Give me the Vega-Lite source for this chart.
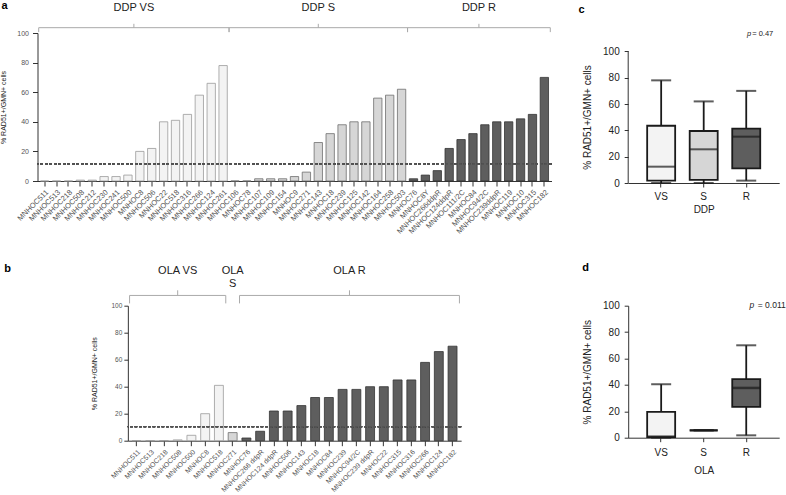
{
  "$schema": "https://vega.github.io/schema/vega-lite/v6.json",
  "background": "white",
  "padding": {"left": -1.5, "top": 0, "right": 0, "bottom": 0},
  "config": {
    "font": "Liberation Sans",
    "view": {"stroke": null},
    "axis": {"grid": false, "domainColor": "#333", "tickColor": "#333", "labelColor": "#333", "titleColor": "#222", "titleFontWeight": "normal", "labelFont": "Liberation Sans", "titleFont": "Liberation Sans", "labelOverlap": false}
  },
  "datasets": {
    "ddp": [
      {"line": "MNHOC511", "group": "VS", "value": 0},
      {"line": "MNHOC513", "group": "VS", "value": 0},
      {"line": "MNHOC218", "group": "VS", "value": 0},
      {"line": "MNHOC508", "group": "VS", "value": 0.6},
      {"line": "MNHOC212", "group": "VS", "value": 0.6},
      {"line": "MNHOC230", "group": "VS", "value": 3},
      {"line": "MNHOC241", "group": "VS", "value": 3},
      {"line": "MNHOC500", "group": "VS", "value": 4},
      {"line": "MNHOC8", "group": "VS", "value": 20},
      {"line": "MNHOC506", "group": "VS", "value": 22},
      {"line": "MNHOC22", "group": "VS", "value": 40},
      {"line": "MNHOC518", "group": "VS", "value": 41},
      {"line": "MNHOC316", "group": "VS", "value": 45},
      {"line": "MNHOC266", "group": "VS", "value": 58},
      {"line": "MNHOC124", "group": "VS", "value": 66},
      {"line": "MNHOC261", "group": "VS", "value": 78},
      {"line": "MNHOC106", "group": "S", "value": 0},
      {"line": "MNHOC78", "group": "S", "value": 0},
      {"line": "MNHOC107", "group": "S", "value": 1.5},
      {"line": "MNHOC109", "group": "S", "value": 1.5},
      {"line": "MNHOC154", "group": "S", "value": 1.5},
      {"line": "MNHOC9", "group": "S", "value": 3},
      {"line": "MNHOC271", "group": "S", "value": 6},
      {"line": "MNHOC143", "group": "S", "value": 26},
      {"line": "MNHOC18", "group": "S", "value": 32},
      {"line": "MNHOC239", "group": "S", "value": 38},
      {"line": "MNHOC125", "group": "S", "value": 40},
      {"line": "MNHOC142", "group": "S", "value": 40},
      {"line": "MNHOC164", "group": "S", "value": 56},
      {"line": "MNHOC258", "group": "S", "value": 58},
      {"line": "MNHOC503", "group": "S", "value": 62},
      {"line": "MNHOC76", "group": "R", "value": 1.5},
      {"line": "MNHOC8Y", "group": "R", "value": 4},
      {"line": "MNHOC266ddpR", "group": "R", "value": 7},
      {"line": "MNHOC124ddpR", "group": "R", "value": 22},
      {"line": "MNHOC111/2C", "group": "R", "value": 28},
      {"line": "MNHOC84", "group": "R", "value": 32},
      {"line": "MNHOC94/2C", "group": "R", "value": 38},
      {"line": "MNHOC239ddpR", "group": "R", "value": 40},
      {"line": "MNHOC119", "group": "R", "value": 40},
      {"line": "MNHOC10", "group": "R", "value": 42},
      {"line": "MNHOC315", "group": "R", "value": 45},
      {"line": "MNHOC182", "group": "R", "value": 70}
    ],
    "ola": [
      {"line": "MNHOC511", "group": "VS", "value": 0},
      {"line": "MNHOC513", "group": "VS", "value": 0},
      {"line": "MNHOC218", "group": "VS", "value": 0},
      {"line": "MNHOC508", "group": "VS", "value": 0.6},
      {"line": "MNHOC500", "group": "VS", "value": 4},
      {"line": "MNHOC8", "group": "VS", "value": 20},
      {"line": "MNHOC518", "group": "VS", "value": 41},
      {"line": "MNHOC271", "group": "S", "value": 6},
      {"line": "MNHOC76", "group": "R", "value": 2},
      {"line": "MNHOC266 ddpR", "group": "R", "value": 7},
      {"line": "MNHOC124 ddpR", "group": "R", "value": 22},
      {"line": "MNHOC506", "group": "R", "value": 22},
      {"line": "MNHOC143", "group": "R", "value": 26},
      {"line": "MNHOC18", "group": "R", "value": 32},
      {"line": "MNHOC84", "group": "R", "value": 32},
      {"line": "MNHOC239", "group": "R", "value": 38},
      {"line": "MNHOC94/2C", "group": "R", "value": 38},
      {"line": "MNHOC239 ddpR", "group": "R", "value": 40},
      {"line": "MNHOC22", "group": "R", "value": 40},
      {"line": "MNHOC315", "group": "R", "value": 45},
      {"line": "MNHOC316", "group": "R", "value": 45},
      {"line": "MNHOC266", "group": "R", "value": 58},
      {"line": "MNHOC124", "group": "R", "value": 66},
      {"line": "MNHOC182", "group": "R", "value": 70}
    ],
    "ddpBox": [
      {"group": "VS", "min": 0, "q1": 1.8, "median": 12.4, "q3": 43.5, "max": 78},
      {"group": "S", "min": 0, "q1": 2.3, "median": 25.6, "q3": 39.5, "max": 62},
      {"group": "R", "min": 1.8, "q1": 11.1, "median": 35.2, "q3": 41.3, "max": 70}
    ],
    "olaBox": [
      {"group": "VS", "min": 0, "q1": 0.5, "median": 0.8, "q3": 19.5, "max": 40.5},
      {"group": "S", "min": 5.6, "q1": 5.6, "median": 5.6, "q3": 5.6, "max": 5.6},
      {"group": "R", "min": 1.8, "q1": 23.3, "median": 37.7, "q3": 44.3, "max": 70}
    ]
  },
  "columns": 2,
  "align": "each",
  "bounds": "flush",
  "center": {"column": true, "row": false},
  "spacing": {"row": 122.7, "column": 76.7},
  "concat": [
    {
      "width": 514,
      "height": 148,
      "data": {"name": "ddp"},
      "layer": [
        {
          "mark": {"type": "bar", "strokeWidth": 0.8},
          "encoding": {
            "x": {"field": "line", "type": "nominal", "sort": null,
              "scale": {"paddingInner": 0.3, "paddingOuter": 0.25},
              "axis": {"title": null, "labelAngle": -45, "labelFontSize": 7.5, "labelColor": "#555", "tickSize": 5, "labelPadding": 2, "labelOverlap": false}},
            "y": {"field": "value", "type": "quantitative", "scale": {"domain": [0, 100], "nice": false},
              "axis": {"values": [0, 20, 40, 60, 80, 100], "tickCount": 6, "labelOverlap": false, "title": "% RAD51+/GMN+ cells", "titleFontSize": 7, "labelFontSize": 7, "tickSize": 5, "labelPadding": 4, "titlePadding": 10.5, "labelColor": "#555"}},
            "fill": {"field": "group", "type": "nominal", "scale": {"domain": ["VS", "S", "R"], "range": ["#f3f3f3", "#d6d6d6", "#5e5e5e"]}, "legend": null},
            "stroke": {"field": "group", "type": "nominal", "scale": {"domain": ["VS", "S", "R"], "range": ["#9a9a9a", "#6e6e6e", "#333333"]}, "legend": null}
          }
        },
        {
          "mark": {"type": "rule", "strokeDash": [2.5, 2], "color": "#555", "strokeWidth": 0.7},
          "encoding": {"y": {"datum": 11.3, "type": "quantitative"}}
        },
        {
          "data": {"values": [{"letter": "a"}]},
          "mark": {"type": "text", "fontSize": 11, "fontWeight": "bold", "align": "left", "baseline": "alphabetic", "color": "#000"},
          "encoding": {
            "x": {"datum": -3.63, "type": "quantitative", "scale": {"domain": [-0.6, 42.6], "nice": false, "zero": false}, "axis": null},
            "y": {"datum": 115.9, "type": "quantitative"},
            "text": {"field": "letter"}
          }
        },
        {
          "transform": [
            {"window": [{"op": "row_number", "as": "rn"}]},
            {"aggregate": [{"op": "min", "field": "rn", "as": "first"}, {"op": "max", "field": "rn", "as": "last"}], "groupby": ["group"]},
            {"calculate": "datum.first - 1.5", "as": "lo"},
            {"calculate": "datum.last - 0.5", "as": "hi"},
            {"calculate": "(datum.first + datum.last) / 2 - 1", "as": "mid"},
            {"calculate": "'DDP ' + datum.group", "as": "label"}
          ],
          "layer": [
            {
              "mark": {"type": "rule", "color": "#aaa", "strokeWidth": 1},
              "encoding": {
                "x": {"field": "lo", "type": "quantitative", "scale": {"domain": [-0.6, 42.6], "nice": false, "zero": false}, "axis": null},
                "x2": {"field": "hi"},
                "y": {"datum": 103.6, "type": "quantitative"}
              }
            },
            {
              "mark": {"type": "rule", "color": "#aaa", "strokeWidth": 1},
              "encoding": {
                "x": {"field": "mid", "type": "quantitative"},
                "y": {"datum": 103.6, "type": "quantitative"},
                "y2": {"datum": 106.2}
              }
            },
            {
              "mark": {"type": "rule", "color": "#aaa", "strokeWidth": 1},
              "encoding": {
                "x": {"field": "hi", "type": "quantitative"},
                "y": {"datum": 103.6, "type": "quantitative"},
                "y2": {"datum": 100.6}
              }
            },
            {
              "mark": {"type": "rule", "color": "#aaa", "strokeWidth": 1},
              "encoding": {
                "x": {"field": "lo", "type": "quantitative"},
                "y": {"datum": 103.6, "type": "quantitative"},
                "y2": {"datum": 100.6}
              }
            },
            {
              "mark": {"type": "text", "fontSize": 11, "baseline": "alphabetic", "color": "#222"},
              "encoding": {
                "x": {"field": "mid", "type": "quantitative"},
                "y": {"datum": 114.8, "type": "quantitative"},
                "text": {"field": "label"}
              }
            }
          ]
        }
      ],
      "resolve": {"scale": {"x": "independent"}}
    },
    {
      "width": 151,
      "height": 150,
      "data": {"name": "ddpBox"},
      "layer": [
        {
          "data": {"values": [{"edge": 0, "from": 0, "to": 100}]},
          "mark": {"type": "rule", "color": "#333", "strokeWidth": 1},
          "encoding": {
            "x": {"field": "edge", "type": "quantitative", "scale": {"domain": [0, 1], "nice": false, "zero": false}, "axis": null},
            "y": {"field": "from", "type": "quantitative"},
            "y2": {"field": "to"}
          }
        },
        {
          "layer": [
            {
              "mark": {"type": "rule", "color": "#1a1a1a", "strokeWidth": 1.8},
              "encoding": {
                "x": {"field": "group", "type": "nominal", "scale": {"domain": ["VS", "S", "R"], "paddingInner": 0.5, "paddingOuter": 0.525},
                  "axis": {"title": "DDP", "labelAngle": 0, "labelFontSize": 10, "titleFontSize": 10, "tickSize": 4, "labelPadding": 4, "titlePadding": 3, "labelColor": "#222"}},
                "y": {"field": "min", "type": "quantitative", "scale": {"domain": [0, 113.98], "nice": false},
                  "axis": {"values": [0, 20, 40, 60, 80, 100], "tickCount": 6, "domain": false, "labelOverlap": false, "title": "% RAD51+/GMN+ cells", "titleFontSize": 10, "labelFontSize": 10, "tickSize": 4, "labelPadding": 5, "titlePadding": 10, "labelColor": "#222", "titleY": 84}},
                "y2": {"field": "max"}
              }
            },
            {
              "mark": {"type": "bar", "size": 28, "stroke": "#1a1a1a", "strokeWidth": 1.8},
              "encoding": {
                "x": {"field": "group", "type": "nominal"},
                "y": {"field": "q1", "type": "quantitative"},
                "y2": {"field": "q3"},
                "fill": {"field": "group", "type": "nominal", "scale": {"domain": ["VS", "S", "R"], "range": ["#e6e6e6", "#bdbdbd", "#7a7a7a"]}, "legend": null}
              }
            },
            {
              "mark": {"type": "tick", "size": 28, "thickness": 2, "color": "#1a1a1a"},
              "encoding": {"x": {"field": "group", "type": "nominal"}, "y": {"field": "median", "type": "quantitative"}}
            },
            {
              "mark": {"type": "tick", "size": 20, "thickness": 2, "color": "#1a1a1a"},
              "encoding": {"x": {"field": "group", "type": "nominal"}, "y": {"field": "max", "type": "quantitative"}}
            },
            {
              "mark": {"type": "tick", "size": 20, "thickness": 2, "color": "#1a1a1a"},
              "encoding": {"x": {"field": "group", "type": "nominal"}, "y": {"field": "min", "type": "quantitative"}}
            },
            {
              "data": {"values": [{"group": "R", "p": "p", "rest": "= 0.47"}]},
              "mark": {"type": "text", "fontSize": 7.5, "align": "right", "baseline": "middle", "dx": 27, "color": "#222"},
              "encoding": {"x": {"field": "group", "type": "nominal"}, "y": {"datum": 113.2, "type": "quantitative"}, "text": {"field": "rest"}}
            },
            {
              "data": {"values": [{"group": "R", "p": "p", "rest": "= 0.47"}]},
              "mark": {"type": "text", "fontSize": 7.5, "fontStyle": "italic", "align": "right", "baseline": "middle", "dx": 5, "color": "#222"},
              "encoding": {"x": {"field": "group", "type": "nominal"}, "y": {"datum": 113.2, "type": "quantitative"}, "text": {"field": "p"}}
            },
            {
              "data": {"values": [{"letter": "c"}]},
              "mark": {"type": "text", "fontSize": 11, "fontWeight": "bold", "align": "left", "baseline": "alphabetic", "dx": -82.7, "color": "#000"},
              "encoding": {"x": {"datum": "VS", "type": "nominal"}, "y": {"datum": 128.9, "type": "quantitative"}, "text": {"field": "letter"}}
            }
          ]
        }
      ],
      "resolve": {"scale": {"x": "independent"}}
    },
    {
      "width": 333.3,
      "height": 135,
      "data": {"name": "ola"},
      "layer": [
        {
          "mark": {"type": "bar", "strokeWidth": 0.8},
          "encoding": {
            "x": {"field": "line", "type": "nominal", "sort": null,
              "scale": {"paddingInner": 0.35, "paddingOuter": 0.3},
              "axis": {"title": null, "labelAngle": -45, "labelFontSize": 7, "labelColor": "#555", "tickSize": 5, "labelPadding": 2, "labelOverlap": false}},
            "y": {"field": "value", "type": "quantitative", "scale": {"domain": [0, 100], "nice": false},
              "axis": {"values": [0, 20, 40, 60, 80, 100], "tickCount": 6, "labelOverlap": false, "title": "% RAD51+/GMN+ cells", "titleFontSize": 7, "labelFontSize": 6.5, "tickSize": 4, "labelPadding": 2, "titlePadding": 14, "labelColor": "#555"}},
            "fill": {"field": "group", "type": "nominal", "scale": {"domain": ["VS", "S", "R"], "range": ["#f3f3f3", "#d6d6d6", "#5e5e5e"]}, "legend": null},
            "stroke": {"field": "group", "type": "nominal", "scale": {"domain": ["VS", "S", "R"], "range": ["#9a9a9a", "#6e6e6e", "#333333"]}, "legend": null}
          }
        },
        {
          "mark": {"type": "rule", "strokeDash": [2.5, 2], "color": "#555", "strokeWidth": 0.7},
          "encoding": {"y": {"datum": 10.4, "type": "quantitative"}}
        },
        {
          "data": {"values": [{"letter": "b"}]},
          "mark": {"type": "text", "fontSize": 11, "fontWeight": "bold", "align": "left", "baseline": "alphabetic", "color": "#000"},
          "encoding": {
            "x": {"datum": -9.62, "type": "quantitative", "scale": {"domain": [-0.625, 23.625], "nice": false, "zero": false}, "axis": null},
            "y": {"datum": 124.9, "type": "quantitative"},
            "text": {"field": "letter"}
          }
        },
        {
          "transform": [
            {"window": [{"op": "row_number", "as": "rn"}]},
            {"aggregate": [{"op": "min", "field": "rn", "as": "first"}, {"op": "max", "field": "rn", "as": "last"}], "groupby": ["group"]},
            {"calculate": "datum.first - 1.5", "as": "lo"},
            {"calculate": "datum.last - 0.5", "as": "hi"},
            {"calculate": "(datum.first + datum.last) / 2 - 1", "as": "mid"},
            {"calculate": "datum.group == 'S' ? ['OLA', 'S'] : 'OLA ' + datum.group", "as": "label"}
          ],
          "layer": [
            {
              "transform": [{"filter": "datum.group != 'S'"}],
              "mark": {"type": "rule", "color": "#aaa", "strokeWidth": 1},
              "encoding": {
                "x": {"field": "lo", "type": "quantitative", "scale": {"domain": [-0.625, 23.625], "nice": false, "zero": false}, "axis": null},
                "x2": {"field": "hi"},
                "y": {"datum": 107.6, "type": "quantitative"}
              }
            },
            {
              "transform": [{"filter": "datum.group != 'S'"}],
              "mark": {"type": "rule", "color": "#aaa", "strokeWidth": 1},
              "encoding": {
                "x": {"field": "mid", "type": "quantitative"},
                "y": {"datum": 107.6, "type": "quantitative"},
                "y2": {"datum": 111.4}
              }
            },
            {
              "transform": [{"filter": "datum.group != 'S'"}],
              "mark": {"type": "rule", "color": "#aaa", "strokeWidth": 1},
              "encoding": {
                "x": {"field": "hi", "type": "quantitative"},
                "y": {"datum": 107.6, "type": "quantitative"},
                "y2": {"datum": 101.7}
              }
            },
            {
              "transform": [{"filter": "datum.group != 'S'"}],
              "mark": {"type": "rule", "color": "#aaa", "strokeWidth": 1},
              "encoding": {
                "x": {"field": "lo", "type": "quantitative"},
                "y": {"datum": 107.6, "type": "quantitative"},
                "y2": {"datum": 101.7}
              }
            },
            {
              "mark": {"type": "text", "fontSize": 11, "baseline": "alphabetic", "color": "#222", "lineHeight": 13},
              "encoding": {
                "x": {"field": "mid", "type": "quantitative"},
                "y": {"datum": 123.2, "type": "quantitative"},
                "text": {"field": "label"}
              }
            }
          ]
        }
      ],
      "resolve": {"scale": {"x": "independent"}}
    },
    {
      "width": 151,
      "height": 132,
      "data": {"name": "olaBox"},
      "layer": [
        {
          "mark": {"type": "rule", "color": "#1a1a1a", "strokeWidth": 1.8},
          "encoding": {
            "x": {"field": "group", "type": "nominal", "scale": {"domain": ["VS", "S", "R"], "paddingInner": 0.5, "paddingOuter": 0.525},
              "axis": {"title": "OLA", "labelAngle": 0, "labelFontSize": 10, "titleFontSize": 10, "tickSize": 4, "labelPadding": 5.5, "titlePadding": 8, "labelColor": "#222"}},
            "y": {"field": "min", "type": "quantitative", "scale": {"domain": [0, 100], "nice": false},
              "axis": {"values": [0, 20, 40, 60, 80, 100], "tickCount": 6, "labelOverlap": false, "title": "% RAD51+/GMN+ cells", "titleFontSize": 10, "labelFontSize": 10, "tickSize": 4, "labelPadding": 5, "titlePadding": 10, "labelColor": "#222"}},
            "y2": {"field": "max"}
          }
        },
        {
          "mark": {"type": "bar", "size": 28, "stroke": "#1a1a1a", "strokeWidth": 1.8},
          "encoding": {
            "x": {"field": "group", "type": "nominal"},
            "y": {"field": "q1", "type": "quantitative"},
            "y2": {"field": "q3"},
            "fill": {"field": "group", "type": "nominal", "scale": {"domain": ["VS", "S", "R"], "range": ["#e6e6e6", "#bdbdbd", "#7a7a7a"]}, "legend": null}
          }
        },
        {
          "mark": {"type": "tick", "size": 28, "thickness": 2.5, "color": "#1a1a1a"},
          "encoding": {"x": {"field": "group", "type": "nominal"}, "y": {"field": "median", "type": "quantitative"}}
        },
        {
          "mark": {"type": "tick", "size": 20, "thickness": 2, "color": "#1a1a1a"},
          "encoding": {"x": {"field": "group", "type": "nominal"}, "y": {"field": "max", "type": "quantitative"}}
        },
        {
          "mark": {"type": "tick", "size": 20, "thickness": 2, "color": "#1a1a1a"},
          "encoding": {"x": {"field": "group", "type": "nominal"}, "y": {"field": "min", "type": "quantitative"}}
        },
        {
          "data": {"values": [{"group": "R", "p": "p", "rest": "= 0.011"}]},
          "mark": {"type": "text", "fontSize": 8.5, "align": "right", "baseline": "middle", "dx": 39.5, "color": "#222"},
          "encoding": {"x": {"field": "group", "type": "nominal"}, "y": {"datum": 100.3, "type": "quantitative"}, "text": {"field": "rest"}}
        },
        {
          "data": {"values": [{"group": "R", "p": "p", "rest": "= 0.011"}]},
          "mark": {"type": "text", "fontSize": 8.5, "fontStyle": "italic", "align": "right", "baseline": "middle", "dx": 8, "color": "#222"},
          "encoding": {"x": {"field": "group", "type": "nominal"}, "y": {"datum": 100.3, "type": "quantitative"}, "text": {"field": "p"}}
        },
        {
          "data": {"values": [{"letter": "d"}]},
          "mark": {"type": "text", "fontSize": 11, "fontWeight": "bold", "align": "left", "baseline": "alphabetic", "dx": -79, "color": "#000"},
          "encoding": {"x": {"datum": "VS", "type": "nominal"}, "y": {"datum": 126.5, "type": "quantitative"}, "text": {"field": "letter"}}
        }
      ]
    }
  ]
}
